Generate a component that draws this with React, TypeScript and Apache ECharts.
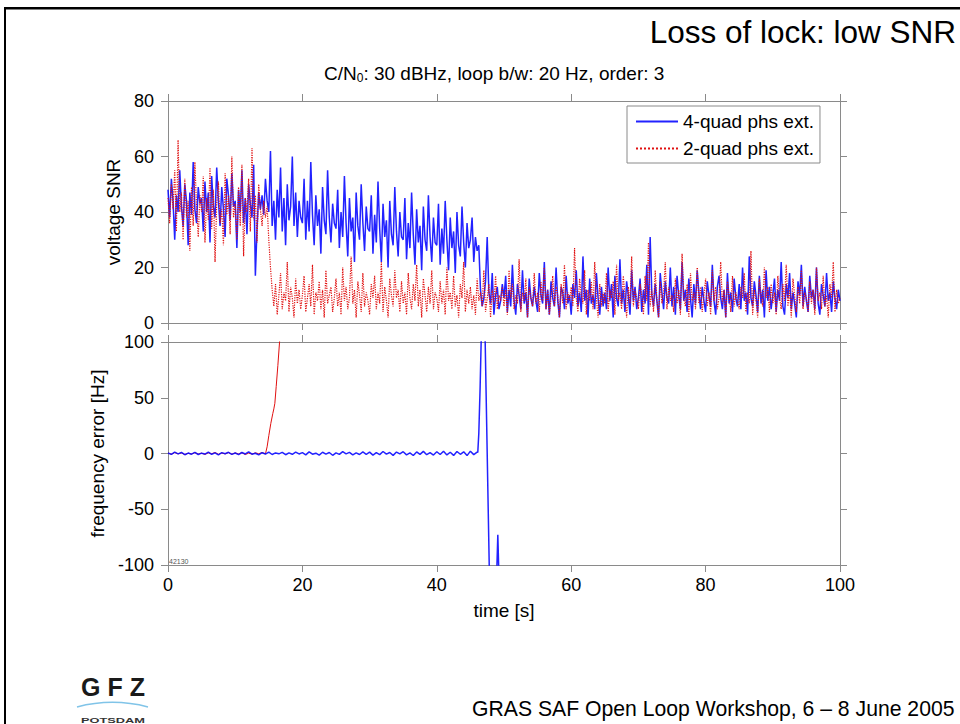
import React, { useEffect, useRef } from "react";
import * as echarts from "echarts";

// ---- data ----
// top panel: voltage SNR, sampled every 0.25 s from 0 to 100 s
const TOP_DT = 0.25;
const snr4Quad: number[] = [
  48,38,52,44,30,46,40,55,42,35,50,44,28,47,39,58,41,36,49,43,
  45,33,51,40,47,29,53,42,38,56,44,35,49,41,31,52,46,37,54,42,
  44,27,48,40,55,36,45,32,50,43,38,57,17,34,47,41,46,39,52,44,
  40,62,35,44,30,48,38,56,33,45,28,50,37,42,60,35,47,31,44,38,
  36,52,30,44,33,58,39,28,46,35,41,25,49,37,32,55,38,29,43,36,
  34,48,27,40,31,53,36,24,45,33,38,22,47,35,30,50,36,26,42,34,
  33,46,25,39,29,51,34,22,43,31,37,20,44,32,28,49,33,24,40,31,
  30,45,23,36,27,47,32,21,41,29,35,19,42,30,26,46,31,22,38,29,
  28,43,21,34,25,44,30,19,38,27,33,18,40,28,24,42,29,20,36,27,
  30,38,22,31,26,28,12,6,9,15,31,11,7,18,3,10,13,5,8,14,
  9,17,4,12,6,21,8,3,14,10,5,19,7,11,2,16,9,6,13,8,
  4,18,10,7,22,5,12,3,15,9,6,20,8,2,13,11,5,17,7,10,
  3,14,9,19,6,11,4,24,8,12,2,16,7,10,5,18,9,3,13,6,
  11,5,20,8,14,2,17,9,6,23,7,12,4,15,10,3,19,8,13,5,
  9,16,4,12,7,21,3,31,10,6,14,8,2,18,11,5,15,9,7,20,
  6,13,3,17,10,5,22,8,12,4,16,9,2,14,7,19,11,5,13,8,
  4,15,10,6,21,8,3,13,17,9,5,12,2,18,7,11,4,16,9,6,
  14,5,20,8,11,3,24,9,6,15,10,4,17,7,12,2,19,8,13,5,
  10,16,4,12,8,22,6,3,14,9,18,5,11,7,2,15,10,21,6,13,
  8,4,17,9,12,5,20,7,3,14,10,6,18,8,11,4,15,9,5,12,
  8,
];
const snr2Quad: number[] = [
  45,36,50,41,55,33,66,40,47,30,52,38,44,26,49,35,58,42,31,46,
  40,53,29,45,37,56,34,48,22,43,51,36,41,28,54,39,46,32,60,38,
  43,30,49,35,57,24,45,40,52,33,63,37,46,29,50,41,35,44,38,42,
  30,20,12,6,14,3,10,18,5,11,8,22,4,13,9,2,16,7,12,5,
  10,17,4,9,14,6,21,3,11,8,15,5,12,2,19,7,10,13,4,9,
  16,6,11,3,20,8,13,5,9,24,7,12,2,15,10,4,18,6,11,8,
  3,14,9,17,5,11,7,22,4,13,8,2,16,10,6,19,9,12,4,15,
  7,11,3,18,9,5,14,8,21,6,12,2,16,10,4,13,7,19,5,11,
  9,4,15,7,12,3,20,8,11,5,17,6,10,2,14,9,22,4,12,7,
  13,5,10,3,16,8,11,6,19,4,9,14,2,12,7,17,5,10,8,13,
  6,12,3,19,9,14,5,10,7,23,4,11,8,16,2,13,9,6,18,7,
  11,4,15,8,20,5,12,3,9,17,6,13,10,2,14,7,21,5,11,8,
  13,6,27,9,4,16,10,7,19,3,12,8,15,5,22,9,2,14,6,11,
  7,18,4,12,9,15,3,21,8,11,5,17,10,2,13,7,24,6,12,9,
  5,14,10,3,17,8,29,6,12,4,19,9,2,15,7,11,22,5,13,8,
  10,4,16,7,12,3,25,9,6,14,2,18,8,11,5,20,7,13,4,10,
  16,6,11,3,19,8,13,5,9,22,7,12,2,15,10,4,17,6,11,8,
  5,13,9,18,4,11,7,26,3,12,8,2,16,10,6,20,9,13,4,14,
  7,11,3,17,9,5,14,8,21,6,12,2,16,10,4,13,7,19,5,11,
  9,4,15,7,12,3,20,8,11,5,17,6,10,2,14,9,22,4,12,7,
  9,
];

// bottom panel: frequency error [Hz]; tracking part sampled every 0.5 s
const FREQ_DT = 0.5;
const freq4QuadTracking: number[] = [
  0.5,-0.8,1.2,-0.3,0.9,-1.1,0.4,-0.6,1.0,-0.9,0.3,-0.5,1.3,-0.7,0.6,-1.2,0.8,-0.2,1.1,-0.8,
  0.4,-1.0,0.9,-0.4,1.4,-0.6,0.2,-1.3,0.7,-0.5,1.2,-0.9,0.5,-0.3,1.0,-1.1,0.6,-0.7,1.3,-0.4,
  0.8,-1.2,1.5,-0.6,0.3,-1.4,1.1,-0.5,0.9,-1.6,0.6,-0.8,1.7,-0.3,1.0,-1.3,0.5,-0.9,1.4,-0.7,
  1.2,-1.5,0.7,-1.0,1.8,-0.6,0.9,-1.7,1.3,-0.4,1.6,-1.2,0.5,-1.8,1.4,-0.8,1.9,-1.1,0.7,-1.4,
  1.6,-0.9,2.0,-1.3,1.1,-1.7,1.8,-0.7,1.5,-1.9,2.1,-1.0,1.3,
];
const freq4QuadLoss: [number, number][] = [
  [46.1, 1], [46.25, 18], [46.45, 60], [46.6, 100], [46.9, 140], [47.2, 100],
  [47.5, 0], [47.8, -100], [48.1, -200], [48.7, -180], [48.95, -100],
  [49.08, -73], [49.2, -100], [49.4, -200],
];
const freq2QuadTracking: number[] = [
  0.4,-0.6,0.8,-0.3,0.5,-0.9,0.2,-0.4,0.7,-0.5,
  0.3,-0.8,0.6,-0.2,0.9,-0.7,0.4,-0.3,0.8,-0.6,
  0.5,-0.4,0.7,-0.9,0.3,-0.5,0.6,-0.2,0.8,-0.4,
];
const freq2QuadLoss: [number, number][] = [
  [14.75, 6], [15.0, 16], [15.3, 27], [15.6, 36], [15.75, 40], [15.9, 45],
  [16.1, 60], [16.35, 79], [16.6, 100], [16.8, 116],
];

const SERIES_4Q = "4-quad phs ext.";
const SERIES_2Q = "2-quad phs ext.";
const X_TICKS = [0, 20, 40, 60, 80, 100];
const SNR_TICKS = [0, 20, 40, 60, 80];
const FREQ_TICKS = [-100, -50, 0, 50, 100];

const FONT = "'Liberation Sans', Arial, Helvetica, sans-serif";
const AXIS_GRAY = "#8a8a8a";
const BLUE = "#0a0aff";
const RED = "#e01010";

function sampled(values: number[], dt: number): [number, number][] {
  return values.map((v, i) => [i * dt, v]);
}

function makeAxis(extra: any, showLabels: boolean) {
  return {
    type: "value",
    splitLine: { show: false },
    axisLine: { show: true, onZero: false, lineStyle: { color: AXIS_GRAY, width: 1 } },
    axisTick: { show: true, inside: false, length: 7, lineStyle: { color: AXIS_GRAY } },
    axisLabel: { show: showLabels, color: "#000", fontSize: 18, fontFamily: FONT },
    ...extra,
  };
}

export default function App() {
  const ref = useRef<HTMLDivElement>(null);

  useEffect(() => {
    if (!ref.current) return;
    const chart = echarts.init(ref.current, undefined, { renderer: "svg" });

    const xBase = { min: X_TICKS[0], max: X_TICKS[X_TICKS.length - 1], interval: 20 };
    const snrBase = { min: SNR_TICKS[0], max: SNR_TICKS[SNR_TICKS.length - 1], interval: 20 };
    const freqBase = { min: FREQ_TICKS[0], max: FREQ_TICKS[FREQ_TICKS.length - 1], interval: 50 };

    const option: any = {
      animation: false,
      backgroundColor: "#fff",
      textStyle: { fontFamily: FONT },
      title: {
        text: "{a|C/N}{s|0}{a|: 30 dBHz, loop b/w: 20 Hz, order: 3}",
        left: 324,
        top: 63,
        padding: 0,
        textStyle: {
          fontFamily: FONT,
          fontSize: 19,
          fontWeight: "normal",
          color: "#000",
          rich: {
            a: { fontFamily: FONT, fontSize: 19, color: "#000" },
            s: { fontFamily: FONT, fontSize: 12, color: "#000", padding: [9, 0, 0, 0], verticalAlign: "bottom" },
          },
        },
      },
      legend: {
        orient: "vertical",
        left: 627,
        top: 106,
        padding: [6, 6, 5, 8],
        itemGap: 8,
        itemWidth: 42,
        itemHeight: 14,
        borderColor: AXIS_GRAY,
        borderWidth: 1,
        backgroundColor: "#fff",
        itemStyle: { opacity: 0 },
        textStyle: { fontSize: 19, color: "#000", fontFamily: FONT },
        data: [SERIES_4Q, SERIES_2Q],
      },
      grid: [
        { left: 168, top: 101, width: 672, height: 222 },
        { left: 168, top: 342, width: 672, height: 223 },
      ],
      xAxis: [
        makeAxis({ gridIndex: 0, position: "bottom", ...xBase }, false),
        makeAxis({ gridIndex: 0, position: "top", ...xBase }, false),
        makeAxis(
          {
            gridIndex: 1,
            position: "bottom",
            ...xBase,
            name: "time [s]",
            nameLocation: "middle",
            nameGap: 36,
            nameTextStyle: { fontSize: 19, color: "#000", fontFamily: FONT },
            axisLabel: { show: true, color: "#000", fontSize: 18, fontFamily: FONT, margin: 11 },
          },
          true
        ),
        makeAxis({ gridIndex: 1, position: "top", ...xBase }, false),
      ],
      yAxis: [
        makeAxis(
          {
            gridIndex: 0,
            position: "left",
            ...snrBase,
            name: "voltage SNR",
            nameLocation: "middle",
            nameGap: 43,
            nameTextStyle: { fontSize: 19, color: "#000", fontFamily: FONT },
            axisLabel: { show: true, color: "#000", fontSize: 18, fontFamily: FONT, margin: 14 },
          },
          true
        ),
        makeAxis({ gridIndex: 0, position: "right", ...snrBase }, false),
        makeAxis(
          {
            gridIndex: 1,
            position: "left",
            ...freqBase,
            name: "frequency error [Hz]",
            nameLocation: "middle",
            nameGap: 59,
            nameTextStyle: { fontSize: 19, color: "#000", fontFamily: FONT },
            axisLabel: { show: true, color: "#000", fontSize: 18, fontFamily: FONT, margin: 14 },
          },
          true
        ),
        makeAxis({ gridIndex: 1, position: "right", ...freqBase }, false),
      ],
      series: [
        {
          name: SERIES_4Q,
          type: "line",
          xAxisIndex: 0,
          yAxisIndex: 0,
          data: sampled(snr4Quad, TOP_DT),
          symbol: "none",
          silent: true,
          clip: true,
          itemStyle: { color: BLUE },
          lineStyle: { color: BLUE, width: 1.5, opacity: 0.9 },
        },
        {
          name: SERIES_2Q,
          type: "line",
          xAxisIndex: 0,
          yAxisIndex: 0,
          data: sampled(snr2Quad, TOP_DT),
          symbol: "none",
          silent: true,
          clip: true,
          itemStyle: { color: RED },
          lineStyle: { color: RED, width: 1.2, type: "dotted" },
        },
        {
          name: SERIES_2Q,
          type: "line",
          xAxisIndex: 2,
          yAxisIndex: 2,
          data: [...sampled(freq2QuadTracking, FREQ_DT), ...freq2QuadLoss],
          symbol: "none",
          silent: true,
          clip: true,
          itemStyle: { color: RED },
          lineStyle: { color: RED, width: 1 },
        },
        {
          name: SERIES_4Q,
          type: "line",
          xAxisIndex: 2,
          yAxisIndex: 2,
          data: [...sampled(freq4QuadTracking, FREQ_DT), ...freq4QuadLoss],
          symbol: "none",
          silent: true,
          clip: true,
          itemStyle: { color: BLUE },
          lineStyle: { color: BLUE, width: 1.5, opacity: 0.9 },
        },
      ],
      graphic: [
        { type: "rect", shape: { x: 4, y: 7, width: 956, height: 2.5 }, style: { fill: "#000" }, silent: true },
        { type: "rect", shape: { x: 4, y: 7, width: 2, height: 717 }, style: { fill: "#000" }, silent: true },
        {
          type: "text",
          x: 956,
          y: 32,
          style: {
            text: "Loss of lock: low SNR",
            fontSize: 31.5,
            fontFamily: FONT,
            fill: "#000",
            textAlign: "right",
            textVerticalAlign: "middle",
          },
        },
        {
          type: "text",
          x: 169,
          y: 561,
          style: { text: "42130", fontSize: 7, fontFamily: FONT, fill: "#555", textAlign: "left", textVerticalAlign: "middle" },
        },
        {
          type: "text",
          x: 472,
          y: 708,
          style: {
            text: "GRAS SAF Open Loop Workshop, 6 – 8 June 2005",
            fontSize: 21.2,
            fontFamily: FONT,
            fill: "#000",
            textAlign: "left",
            textVerticalAlign: "middle",
          },
        },
        {
          type: "text",
          x: 113,
          y: 687,
          style: {
            text: "{a|G}{b|F}{b|Z}",
            textAlign: "center",
            textVerticalAlign: "middle",
            rich: {
              a: { fontSize: 25, fontWeight: "bold", fontFamily: FONT, fill: "#1a1a1a" },
              b: { fontSize: 25, fontWeight: "bold", fontFamily: FONT, fill: "#1a1a1a", padding: [0, 0, 0, 7] },
            },
          },
        },
        {
          type: "bezierCurve",
          shape: { x1: 77, y1: 707, x2: 148, y2: 707, cpx1: 100, cpy1: 701, cpx2: 125, cpy2: 701 },
          style: { stroke: "#80c4e8", lineWidth: 1.5, fill: "none" },
          silent: true,
        },
        {
          type: "text",
          x: 113,
          y: 720,
          scaleX: 1.6,
          style: {
            text: "POTSDAM",
            fontSize: 8,
            fontWeight: "bold",
            fontFamily: FONT,
            fill: "#333",
            textAlign: "center",
            textVerticalAlign: "middle",
          },
        },
      ],
    };

    chart.setOption(option);
    return () => chart.dispose();
  }, []);

  return (
    <div
      ref={ref}
      style={{ position: "fixed", left: 0, top: 0, width: 960, height: 724, background: "#fff" }}
    />
  );
}
